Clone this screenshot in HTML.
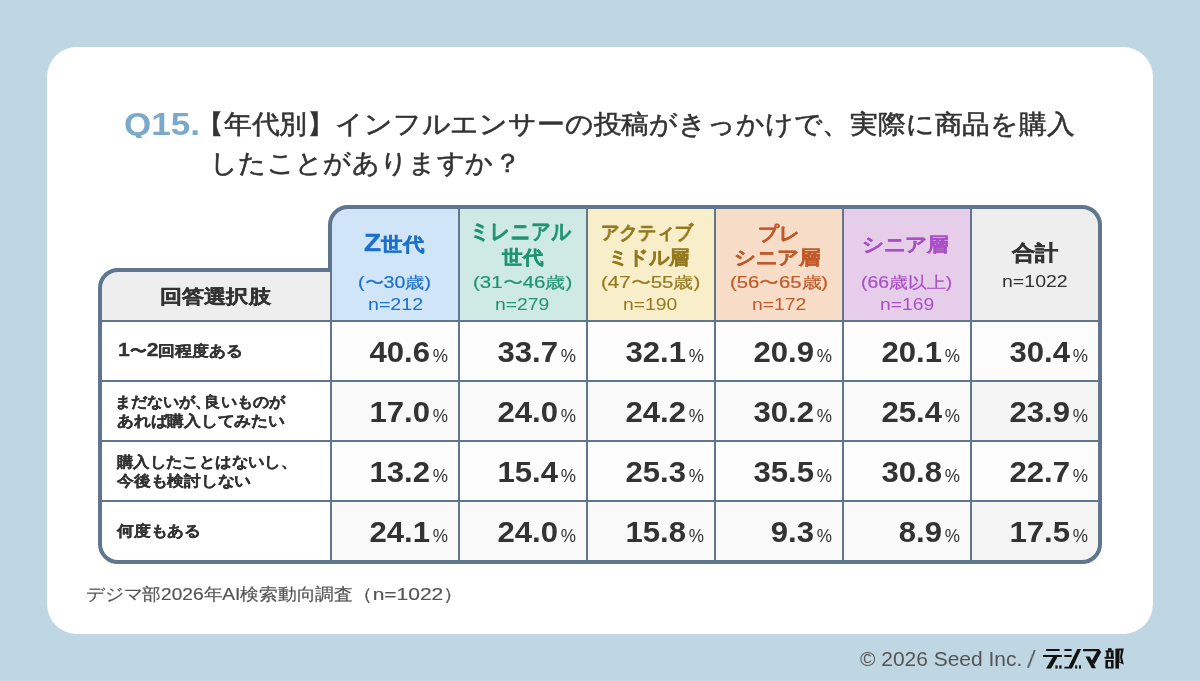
<!DOCTYPE html>
<html lang="ja">
<head>
<meta charset="utf-8">
<title>Q15. 【年代別】インフルエンサーの投稿がきっかけで、実際に商品を購入したことがありますか？</title>
<style>
html,body{margin:0;padding:0;}
body{width:1200px;height:681px;background:#bfd7e2;position:relative;overflow:hidden;
 font-family:"Liberation Sans",sans-serif;color:#333;}
h1,p{margin:0;font-size:inherit;font-weight:normal;}
.card{position:absolute;left:47px;top:47px;width:1106px;height:587px;background:#fff;border-radius:30px;}
.t{position:absolute;display:block;white-space:nowrap;line-height:1;transform-origin:0 0;will-change:transform;}
svg.frame{position:absolute;left:0;top:0;}
.num{will-change:transform;position:absolute;width:115.9px;text-align:right;white-space:nowrap;line-height:1;}
.num b{display:inline-block;font-weight:bold;font-size:28.8px;transform:scaleX(1.08);transform-origin:100% 50%;}
.num i{display:inline-block;font-style:normal;font-weight:normal;font-size:19px;margin-left:1.2px;transform:scaleX(0.9);transform-origin:100% 50%;}
</style>
</head>
<body>
<div class="card"></div>
<svg class="frame" width="1200" height="681" viewBox="0 0 1200 681">
 <defs>
  <clipPath id="cp"><path d="M100 288A18 18 0 0 1 118 270H330V225A18 18 0 0 1 348 207H1082A18 18 0 0 1 1100 225V544A18 18 0 0 1 1082 562H118A18 18 0 0 1 100 544Z"/></clipPath>
 </defs>
 <g clip-path="url(#cp)">
  <rect x="98" y="268" width="233" height="53" fill="#eeeeee"/>
  <rect x="98" y="321" width="233" height="245" fill="#ffffff"/>
  <rect x="331" y="205" width="128" height="116" fill="#d1e5f9"/>
  <rect x="459" y="205" width="128" height="116" fill="#cfe9e4"/>
  <rect x="587" y="205" width="128" height="116" fill="#f8efca"/>
  <rect x="715" y="205" width="128" height="116" fill="#f7dcc7"/>
  <rect x="843" y="205" width="128" height="116" fill="#e6ceea"/>
  <rect x="971" y="205" width="131" height="116" fill="#eeeeee"/>
  <rect x="331" y="321" width="640" height="60" fill="#fdfdfd"/>
  <rect x="331" y="381" width="640" height="60" fill="#f9f9f9"/>
  <rect x="331" y="441" width="640" height="60" fill="#fdfdfd"/>
  <rect x="331" y="501" width="640" height="65" fill="#f9f9f9"/>
  <rect x="971" y="321" width="131" height="60" fill="#fcfcfc"/>
  <rect x="971" y="381" width="131" height="60" fill="#f5f5f5"/>
  <rect x="971" y="441" width="131" height="60" fill="#fcfcfc"/>
  <rect x="971" y="501" width="131" height="65" fill="#f5f5f5"/>
 </g>
 <g stroke="#5f768e" stroke-width="2" fill="none">
  <path d="M331 270V562M459 207V562M587 207V562M715 207V562M843 207V562M971 207V562"/>
  <path d="M100 321H1100M100 381H1100M100 441H1100M100 501H1100"/>
 </g>
 <path d="M100 288A18 18 0 0 1 118 270H330V225A18 18 0 0 1 348 207H1082A18 18 0 0 1 1100 225V544A18 18 0 0 1 1082 562H118A18 18 0 0 1 100 544Z" fill="none" stroke="#5f768e" stroke-width="4" stroke-linejoin="miter"/>
</svg>
<main>
<h1>
 <span class="t" style="left:123.57px;top:109.06px;font-size:31.0px;transform:scaleX(1.13);font-weight:bold;color:#7aa9c9;clip-path:inset(-5px -5px 2.6px -5px);">Q15.</span>
 <span class="t" style="left:196.19px;top:111.65px;font-size:25.8px;transform:scaleX(1.069);-webkit-text-stroke:0.55px;">【年代別】インフルエンサーの投稿がきっかけで、実際に商品を購入</span>
 <span class="t" style="left:209.75px;top:150.75px;font-size:25.8px;transform:scaleX(1.05);-webkit-text-stroke:0.55px;">したことがありますか？</span>
</h1>
<div role="table">
 <div role="row">
  <div role="columnheader"><span class="t" style="left:159.64px;top:286.95px;font-size:19.27px;transform:scaleX(1.165);font-weight:bold;-webkit-text-stroke:0.35px;">回答選択肢</span></div>
  <div role="columnheader"><span class="t" style="left:364.47px;top:231.3px;font-size:19.0px;transform:scaleX(1.133);font-weight:bold;color:#1c6fcb;-webkit-text-stroke:0.35px;"><span style="font-size:1.3em">Z</span>世代</span><span class="t" style="left:358.31px;top:274.05px;font-size:16.35px;transform:scaleX(1.195);color:#1c6fcb;-webkit-text-stroke:0.2px;">(〜30歳)</span><span class="t" style="left:367.55px;top:296.3px;font-size:17.1px;transform:scaleX(1.148);color:#1c6fcb;">n=212</span></div>
  <div role="columnheader"><span class="t" style="left:469.68px;top:222.1px;font-size:21.5px;transform:scaleX(0.884);font-weight:bold;color:#1f9473;-webkit-text-stroke:0.35px;">ミレニアル</span><span class="t" style="left:502.3px;top:248.03px;font-size:19.0px;transform:scaleX(1.082);font-weight:bold;color:#1f9473;-webkit-text-stroke:0.35px;">世代</span><span class="t" style="left:472.75px;top:274.05px;font-size:16.35px;transform:scaleX(1.253);color:#1f9473;-webkit-text-stroke:0.2px;">(31〜46歳)</span><span class="t" style="left:494.62px;top:296.3px;font-size:17.1px;transform:scaleX(1.13);color:#1f9473;">n=279</span></div>
  <div role="columnheader"><span class="t" style="left:601.28px;top:223.1px;font-size:19.0px;transform:scaleX(0.969);font-weight:bold;color:#94791f;-webkit-text-stroke:0.35px;">アクティブ</span><span class="t" style="left:607.72px;top:248.03px;font-size:19.0px;transform:scaleX(1.069);font-weight:bold;color:#94791f;-webkit-text-stroke:0.35px;">ミドル層</span><span class="t" style="left:601.0px;top:274.05px;font-size:16.35px;transform:scaleX(1.253);color:#94791f;-webkit-text-stroke:0.2px;">(47〜55歳)</span><span class="t" style="left:622.87px;top:296.3px;font-size:17.1px;transform:scaleX(1.13);color:#94791f;">n=190</span></div>
  <div role="columnheader"><span class="t" style="left:758.21px;top:223.6px;font-size:19.0px;transform:scaleX(1.086);font-weight:bold;color:#c05a2a;-webkit-text-stroke:0.35px;">プレ</span><span class="t" style="left:734.32px;top:248.03px;font-size:19.0px;transform:scaleX(1.141);font-weight:bold;color:#c05a2a;-webkit-text-stroke:0.35px;">シニア層</span><span class="t" style="left:729.96px;top:274.05px;font-size:16.35px;transform:scaleX(1.238);color:#c05a2a;-webkit-text-stroke:0.2px;">(56〜65歳)</span><span class="t" style="left:751.67px;top:296.3px;font-size:17.1px;transform:scaleX(1.133);color:#c05a2a;">n=172</span></div>
  <div role="columnheader"><span class="t" style="left:862.47px;top:235.03px;font-size:19.0px;transform:scaleX(1.142);font-weight:bold;color:#aa50c5;-webkit-text-stroke:0.35px;">シニア層</span><span class="t" style="left:861.42px;top:274.05px;font-size:16.35px;transform:scaleX(1.184);color:#aa50c5;-webkit-text-stroke:0.2px;">(66歳以上)</span><span class="t" style="left:879.87px;top:296.3px;font-size:17.1px;transform:scaleX(1.13);color:#aa50c5;">n=169</span></div>
  <div role="columnheader"><span class="t" style="left:1012.1px;top:241.65px;font-size:21.03px;transform:scaleX(1.11);font-weight:bold;-webkit-text-stroke:0.35px;">合計</span><span class="t" style="left:1002.26px;top:273.35px;font-size:17.1px;transform:scaleX(1.143);">n=1022</span></div>
 </div>
 <div role="row">
  <div role="rowheader"><span class="t" style="left:118.08px;top:341.45px;font-size:14.5px;transform:scaleX(1.124);font-weight:bold;-webkit-text-stroke:0.3px;"><span style="font-size:1.3em">1</span>〜<span style="font-size:1.3em">2</span>回程度ある</span></div>
  <div role="cell" class="num" style="left:332px;top:338.2px;"><b>40.6</b><i>%</i></div>
  <div role="cell" class="num" style="left:460px;top:338.2px;"><b>33.7</b><i>%</i></div>
  <div role="cell" class="num" style="left:588px;top:338.2px;"><b>32.1</b><i>%</i></div>
  <div role="cell" class="num" style="left:716px;top:338.2px;"><b>20.9</b><i>%</i></div>
  <div role="cell" class="num" style="left:844px;top:338.2px;"><b>20.1</b><i>%</i></div>
  <div role="cell" class="num" style="left:972px;top:338.2px;"><b>30.4</b><i>%</i></div>
 </div>
 <div role="row">
  <div role="rowheader"><span class="t" style="left:115.36px;top:394.95px;font-size:14.5px;transform:scaleX(1.072);font-weight:bold;-webkit-text-stroke:0.3px;">まだないが<span style="margin-right:-0.45em">、</span>良いものが</span><span class="t" style="left:117.0px;top:414.45px;font-size:14.5px;transform:scaleX(1.118);font-weight:bold;-webkit-text-stroke:0.3px;">あれば購入してみたい</span></div>
  <div role="cell" class="num" style="left:332px;top:398.2px;"><b>17.0</b><i>%</i></div>
  <div role="cell" class="num" style="left:460px;top:398.2px;"><b>24.0</b><i>%</i></div>
  <div role="cell" class="num" style="left:588px;top:398.2px;"><b>24.2</b><i>%</i></div>
  <div role="cell" class="num" style="left:716px;top:398.2px;"><b>30.2</b><i>%</i></div>
  <div role="cell" class="num" style="left:844px;top:398.2px;"><b>25.4</b><i>%</i></div>
  <div role="cell" class="num" style="left:972px;top:398.2px;"><b>23.9</b><i>%</i></div>
 </div>
 <div role="row">
  <div role="rowheader"><span class="t" style="left:116.7px;top:455.1px;font-size:14.5px;transform:scaleX(1.091);font-weight:bold;-webkit-text-stroke:0.3px;">購入したことはないし、</span><span class="t" style="left:117.0px;top:474.2px;font-size:14.5px;transform:scaleX(1.119);font-weight:bold;-webkit-text-stroke:0.3px;">今後も検討しない</span></div>
  <div role="cell" class="num" style="left:332px;top:458.2px;"><b>13.2</b><i>%</i></div>
  <div role="cell" class="num" style="left:460px;top:458.2px;"><b>15.4</b><i>%</i></div>
  <div role="cell" class="num" style="left:588px;top:458.2px;"><b>25.3</b><i>%</i></div>
  <div role="cell" class="num" style="left:716px;top:458.2px;"><b>35.5</b><i>%</i></div>
  <div role="cell" class="num" style="left:844px;top:458.2px;"><b>30.8</b><i>%</i></div>
  <div role="cell" class="num" style="left:972px;top:458.2px;"><b>22.7</b><i>%</i></div>
 </div>
 <div role="row">
  <div role="rowheader"><span class="t" style="left:117.0px;top:524.4px;font-size:14.5px;transform:scaleX(1.119);font-weight:bold;-webkit-text-stroke:0.3px;">何度もある</span></div>
  <div role="cell" class="num" style="left:332px;top:518.2px;"><b>24.1</b><i>%</i></div>
  <div role="cell" class="num" style="left:460px;top:518.2px;"><b>24.0</b><i>%</i></div>
  <div role="cell" class="num" style="left:588px;top:518.2px;"><b>15.8</b><i>%</i></div>
  <div role="cell" class="num" style="left:716px;top:518.2px;"><b>9.3</b><i>%</i></div>
  <div role="cell" class="num" style="left:844px;top:518.2px;"><b>8.9</b><i>%</i></div>
  <div role="cell" class="num" style="left:972px;top:518.2px;"><b>17.5</b><i>%</i></div>
 </div>
</div>
<p><span class="t" style="left:86.4px;top:585.9px;font-size:17.3px;transform:scaleX(1.104);color:#555;-webkit-text-stroke:0.2px;">デジマ部2026年AI検索動向調査</span><span class="t" style="left:352.44px;top:585.9px;font-size:17.3px;transform:scaleX(1.214);color:#555;-webkit-text-stroke:0.2px;">（n=1022）</span></p>
</main>
<footer>
 <span class="t" style="left:860.0px;top:650.15px;font-size:19.4px;transform:scaleX(1.081);color:#555;">© 2026 Seed Inc.</span>
 <span class="t" style="left:1028.3px;top:649.4px;font-size:23px;color:#555;transform-origin:50% 50%;transform:skewX(-7deg);">/</span>
 <svg style="position:absolute;left:1036px;top:642px" width="96" height="34" viewBox="1036 642 96 34" fill="#111">
  <rect x="1046" y="649" width="13.6" height="2"/>
  <rect x="1043" y="655" width="18.8" height="2"/>
  <path d="M1053.2 656.5H1057.8L1051 668.6H1046Z"/>
  <rect x="1055.4" y="665.4" width="2.2" height="3.2"/>
  <rect x="1059.2" y="665.4" width="2.4" height="3.2"/>
  <rect x="1064.4" y="649" width="7.2" height="2"/>
  <rect x="1064.4" y="655" width="7.2" height="2"/>
  <path d="M1077.4 649H1081.2L1072 668.6H1064.4V666.8H1068.6Z"/>
  <rect x="1075.2" y="665.4" width="2" height="3.2"/>
  <rect x="1079" y="665.4" width="2" height="3.2"/>
  <path d="M1083 649H1099L1101.2 652L1094.4 664.2L1091.6 661L1097 651.2H1083Z"/>
  <path d="M1085.4 656.6H1089.8L1096 668.2H1091.8Z"/>
  <rect x="1108" y="648.2" width="3.6" height="2.6"/>
  <rect x="1105.6" y="650.4" width="8" height="1.9"/>
  <rect x="1106.4" y="652.2" width="2.4" height="4.8"/>
  <rect x="1110.8" y="652.2" width="2.8" height="4.8"/>
  <rect x="1104.6" y="656.8" width="9.4" height="2"/>
  <path fill-rule="evenodd" d="M1105.4 660H1113.6V668.6H1105.4ZM1108 661.7H1111V666.8H1108Z"/>
  <rect x="1115.4" y="648.6" width="3.6" height="20"/>
  <path fill-rule="evenodd" d="M1119 648.6H1123.8L1122 657L1123.8 664.6L1119 662.6ZM1119.5 650.6H1121L1120 657L1121 662.2L1119.5 661.8Z"/>
 </svg>
</footer>
</body>
</html>
